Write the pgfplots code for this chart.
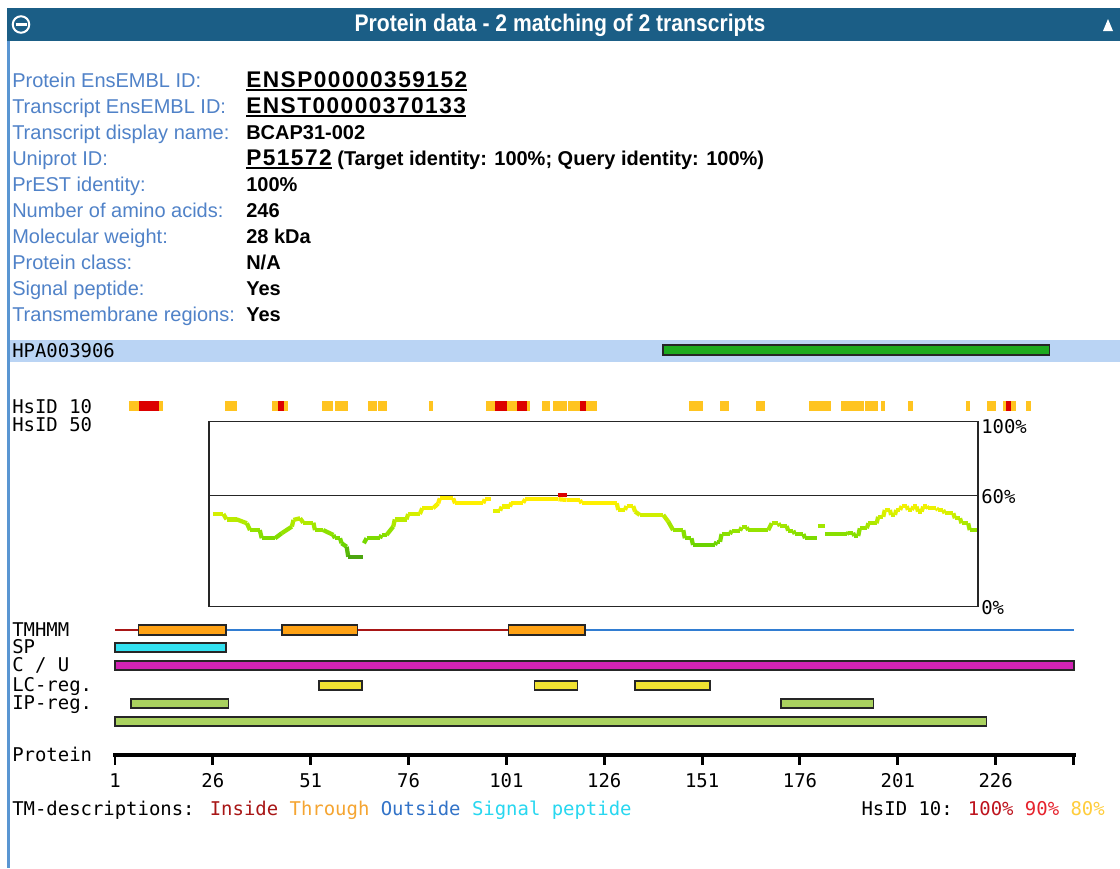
\documentclass[border=0pt]{standalone}
\usepackage{graphicx}
\usepackage{pgfplots}
\pgfplotsset{compat=1.18}
\usepackage{fontspec}
\setmainfont{Liberation Sans}
\newfontfamily\mono{DejaVu Sans Mono}
\definecolor{hdr}{RGB}{27,94,134}
\definecolor{lbl}{RGB}{80,130,200}
\definecolor{border}{RGB}{90,150,210}
\definecolor{band}{RGB}{186,212,244}
\definecolor{hsor}{RGB}{255,196,32}
\definecolor{hsred}{RGB}{220,0,0}
\definecolor{tmin}{RGB}{168,22,22}
\definecolor{tmthr}{RGB}{255,162,20}
\definecolor{tmout}{RGB}{50,125,210}
\definecolor{spc}{RGB}{50,225,240}
\definecolor{cuc}{RGB}{210,35,180}
\definecolor{lcc}{RGB}{240,225,50}
\definecolor{ipc}{RGB}{170,210,95}
\definecolor{hpag}{RGB}{30,170,30}
\definecolor{legthr}{RGB}{245,165,50}
\definecolor{legout}{RGB}{50,115,200}
\definecolor{legsp}{RGB}{40,215,240}
\definecolor{leg100}{RGB}{190,20,30}
\definecolor{leg90}{RGB}{230,35,45}
\definecolor{leg80}{RGB}{255,205,60}
\newcommand\lab{\fontsize{15pt}{18pt}\selectfont\color{lbl}}
\newcommand\val{\fontsize{15pt}{18pt}\selectfont\bfseries}
\newcommand\lnk{\fontsize{17pt}{20pt}\selectfont\addfontfeature{LetterSpace=6.5}}
\newcommand\mn{\mono\fontsize{14.2pt}{17pt}\selectfont}
\newcommand\ul[1]{\sbox0{#1}\rlap{\usebox0}\rule[-2.8pt]{\wd0}{1.3pt}}
\newcommand\seg[5]{\addplot[draw=black!85,line width=1.1pt,fill=#5] coordinates {(#1,#3) (#2,#3) (#2,#4) (#1,#4)} -- cycle;}
\newcommand\sq[3]{\addplot[draw=none,fill=#3] coordinates {(#1,401) (#2,401) (#2,411) (#1,411)} -- cycle;}
\pgfplotsset{frame/.style={width=840pt,height=651pt,scale only axis,hide axis,at={(0pt,0pt)},anchor=south west,y dir=reverse,ymin=0,ymax=868,clip=false},
  crv/.style={mesh,shader=flat,point meta=y,line width=3.2pt,line join=round,mark=none}}
\tikzset{t/.style={inner sep=0pt,anchor=base west}}
\begin{document}
\begin{tikzpicture}
% ---------- page frame in pixel units ----------
\begin{axis}[frame,xmin=0,xmax=1120]
\fill[white] (axis cs:0,0) rectangle (axis cs:1120,868);
\fill[hdr] (axis cs:7,8) rectangle (axis cs:1120,41);
\fill[border] (axis cs:7,41) rectangle (axis cs:9.5,868);
\fill[band] (axis cs:10,340) rectangle (axis cs:1120,362);
\draw[white,line width=1.5pt] (axis cs:21,24.5) circle[radius=6.2pt];
\draw[white,line width=2.2pt] (axis cs:15.5,24.5) -- (axis cs:26.5,24.5);
\fill[white] (axis cs:1103,31) -- (axis cs:1113,31) -- (axis cs:1108,19) -- cycle;
\node[inner sep=0pt,text=white,font=\fontsize{18pt}{20pt}\selectfont\bfseries] at (axis cs:560,25) {\scalebox{0.88}[1]{Protein data - 2 matching of 2 transcripts}};
% info labels
\node[t,font=\lab] at (axis cs:12,87) {Protein EnsEMBL ID:};
\node[t,font=\lab] at (axis cs:12,113) {Transcript EnsEMBL ID:};
\node[t,font=\lab] at (axis cs:12,139) {Transcript display name:};
\node[t,font=\lab] at (axis cs:12,165) {Uniprot ID:};
\node[t,font=\lab] at (axis cs:12,191) {PrEST identity:};
\node[t,font=\lab] at (axis cs:12,217) {Number of amino acids:};
\node[t,font=\lab] at (axis cs:12,243) {Molecular weight:};
\node[t,font=\lab] at (axis cs:12,269) {Protein class:};
\node[t,font=\lab] at (axis cs:12,295) {Signal peptide:};
\node[t,font=\lab] at (axis cs:12,321) {Transmembrane regions:};
\node[t,font=\val] at (axis cs:246,87) {\ul{\lnk ENSP00000359152}};
\node[t,font=\val] at (axis cs:246,113) {\ul{\lnk ENST00000370133}};
\node[t,font=\val] at (axis cs:246,139) {BCAP31-002};
\node[t,font=\val] at (axis cs:246,165) {\ul{\lnk P51572} (Target identity: 100\%; Query identity: 100\%)};
\node[t,font=\val] at (axis cs:246,191) {100\%};
\node[t,font=\val] at (axis cs:246,217) {246};
\node[t,font=\val] at (axis cs:246,243) {28 kDa};
\node[t,font=\val] at (axis cs:246,269) {N/A};
\node[t,font=\val] at (axis cs:246,295) {Yes};
\node[t,font=\val] at (axis cs:246,321) {Yes};
% mono labels
\node[t,font=\mn] at (axis cs:12,357) {HPA003906};
\node[t,font=\mn] at (axis cs:12,413) {HsID 10};
\node[t,font=\mn] at (axis cs:12,431) {HsID 50};
\node[t,font=\mn] at (axis cs:981,433) {100\%};
\node[t,font=\mn] at (axis cs:981,503) {60\%};
\node[t,font=\mn] at (axis cs:981,614) {0\%};
\node[t,font=\mn] at (axis cs:12,636) {TMHMM};
\node[t,font=\mn] at (axis cs:12,653) {SP};
\node[t,font=\mn] at (axis cs:12,671) {C / U};
\node[t,font=\mn] at (axis cs:12,691) {LC-reg.};
\node[t,font=\mn] at (axis cs:12,709) {IP-reg.};
\node[t,font=\mn] at (axis cs:12,761) {Protein};
\node[t,font=\mn] at (axis cs:12,815) {TM-descriptions: {\color{tmin}Inside} {\color{legthr}Through} {\color{legout}Outside} {\color{legsp}Signal peptide}};
\node[inner sep=0pt,anchor=base east,font=\mn] at (axis cs:1105,815) {HsID 10: {\color{leg100}100\%} {\color{leg90}90\%} {\color{leg80}80\%}};
\end{axis}
% ---------- features in amino-acid units ----------
\begin{axis}[frame,xmin=-28.382,xmax=257.77]
\seg{141.0}{239.7}{345}{355}{hpag}
% HsID 10 windows
\sq{4.7}{13.3}{hsor} \sq{29.1}{32.2}{hsor} \sq{41.0}{45.3}{hsor}
\sq{53.8}{56.8}{hsor} \sq{57.2}{60.6}{hsor} \sq{65.7}{67.9}{hsor}
\sq{68.3}{70.4}{hsor} \sq{81.1}{82.3}{hsor} \sq{95.8}{107.0}{hsor}
\sq{110.0}{112.1}{hsor} \sq{112.8}{116.4}{hsor} \sq{116.8}{124.1}{hsor}
\sq{147.6}{151.2}{hsor} \sq{155.6}{157.9}{hsor} \sq{164.7}{167.0}{hsor}
\sq{178.4}{184.0}{hsor} \sq{186.6}{192.3}{hsor} \sq{192.7}{195.9}{hsor}
\sq{196.6}{197.7}{hsor} \sq{203.7}{205.0}{hsor} \sq{218.5}{219.5}{hsor}
\sq{223.7}{226.0}{hsor} \sq{227.9}{231.1}{hsor} \sq{233.8}{235.0}{hsor}
\sq{7.2}{12.3}{hsred} \sq{42.7}{44.2}{hsred} \sq{98.1}{101.2}{hsred}
\sq{103.6}{106.2}{hsred} \sq{119.8}{121.3}{hsred} \sq{228.6}{229.9}{hsred}
% TMHMM
\addplot[tmin,line width=2.2pt] coordinates {(1,630) (7.0,630)};
\addplot[tmout,line width=2.2pt] coordinates {(29.3,630) (43.7,630)};
\addplot[tmin,line width=2.2pt] coordinates {(62.9,630) (101.6,630)};
\addplot[tmout,line width=2.2pt] coordinates {(121.1,630) (246,630)};
\seg{7.0}{29.3}{625}{635}{tmthr}
\seg{43.7}{62.9}{625}{635}{tmthr}
\seg{101.6}{121.1}{625}{635}{tmthr}
% SP, C/U, LC, IP
\seg{1}{29.3}{643}{652}{spc}
\seg{1}{246}{661}{670}{cuc}
\seg{53.1}{64.1}{681}{690}{lcc}
\seg{108.2}{119.1}{681}{690}{lcc}
\seg{133.9}{153.0}{681}{690}{lcc}
\seg{5.1}{30.0}{699}{708}{ipc}
\seg{171.1}{194.8}{699}{708}{ipc}
\seg{1}{223.7}{717}{726}{ipc}
% protein ruler
\addplot[black,line width=3pt] coordinates {(0.6,755) (246.4,755)};
\addplot[black,line width=2.2pt,unbounded coords=jump] coordinates {
(1,753) (1,765) (1,nan) (26,753) (26,765) (26,nan) (51,753) (51,765) (51,nan)
(76,753) (76,765) (76,nan) (101,753) (101,765) (101,nan) (126,753) (126,765) (126,nan)
(151,753) (151,765) (151,nan) (176,753) (176,765) (176,nan) (201,753) (201,765) (201,nan)
(226,753) (226,765) (226,nan) (246,753) (246,765)};
\foreach \k in {1,26,51,76,101,126,151,176,201,226} {
  \edef\tmp{\noexpand\node[inner sep=0pt,anchor=base,font=\noexpand\mn] at (axis cs:\k,787) {\k};}
  \tmp
}
\end{axis}
% ---------- HsID 50 identity plot ----------
\begin{axis}[at={(156.675pt,195.975pt)},anchor=south west,width=576.8pt,height=138.75pt,
  scale only axis,xmin=25,xmax=221.5,ymin=0,ymax=100,xtick=\empty,ytick=\empty,
  axis line style={black!85,line width=1.2pt},
  colormap={hs}{rgb255(27pt)=(75,165,15); rgb255(33pt)=(105,210,0); rgb255(40pt)=(140,225,0); rgb255(47pt)=(185,235,0); rgb255(52pt)=(228,242,0); rgb255(56pt)=(255,240,0); rgb255(60pt)=(255,235,0)},
  point meta min=27,point meta max=60]
\addplot[black!85,line width=1.2pt] coordinates {(25,60) (221.5,60)};
\addplot[crv] coordinates {(26.0,50.1) (28.7,50.1) (29.5,47.2) (32.1,47.2) (34.7,45.1) (35.5,41.4) (38.0,41.4) (38.5,37.0) (41.9,37.0) (43.6,39.7) (46.2,43.3) (46.6,46.9) (48.3,47.8) (49.1,45.4) (51.7,45.4) (52.1,41.4) (54.2,41.4) (56.8,38.8) (57.2,37.0) (58.5,37.0) (58.9,34.3) (60.2,32.4) (60.6,27.0) (64.4,27.0)};
\addplot[crv] coordinates {(64.6,34.3) (65.3,37.0) (68.7,37.0) (69.1,38.8) (70.4,38.8) (72.1,43.3) (72.5,47.2) (75.5,47.2) (75.9,50.1) (78.9,50.1) (79.5,53.2) (82.3,53.2) (83.6,55.9) (84.0,58.6) (87.4,58.6) (87.9,55.9) (95.1,55.9) (95.5,58.1) (97.2,58.1)};
\addplot[crv] coordinates {(97.7,51.9) (99.4,51.9) (99.8,54.1) (101.9,54.1) (102.3,56.2) (105.3,56.2) (105.8,58.1) (114.3,58.1) (116.4,57.7) (119.8,57.7) (120.2,55.9) (129.2,55.9) (129.6,52.3) (131.3,52.3) (131.7,54.4) (133.4,54.4) (133.9,51.4) (135.1,49.6) (141.1,49.6) (142.4,45.9) (143.6,41.4) (146.2,41.4) (146.6,37.0) (148.3,37.0) (148.7,33.4) (154.3,33.4) (154.7,35.1) (155.6,35.1) (156.0,39.3) (158.1,39.3) (158.6,41.1) (160.7,41.1) (161.1,42.9) (162.4,42.9) (162.8,41.4) (167.9,41.4) (168.8,45.1) (170.5,45.1) (170.9,43.6) (172.6,43.6) (173.0,41.1) (174.3,41.1) (174.7,39.3) (176.9,39.3) (177.3,37.0) (180.3,37.0)};
\addplot[crv] coordinates {(180.7,43.6) (182.4,43.6)};
\addplot[crv] coordinates {(182.4,39.3) (188.0,39.3) (188.4,40.0) (189.6,40.0) (189.9,38.2) (190.9,38.2) (191.3,42.4) (193.1,42.4) (193.5,45.1) (195.6,45.1) (196.0,48.6) (197.3,48.6) (197.7,52.3) (199.0,52.3) (199.3,49.6) (200.3,49.6) (200.6,52.3) (201.6,52.3) (202.0,54.4) (203.3,54.4) (203.6,52.3) (204.6,52.3) (205.0,54.1) (205.8,54.1) (206.2,51.4) (207.1,51.4) (207.5,54.1) (208.4,54.1) (208.8,53.2) (210.9,53.2) (211.3,52.3) (212.6,52.3) (213.0,50.5) (215.2,50.5) (215.6,47.8) (216.9,47.8) (217.3,45.1) (219.0,45.1) (219.4,41.4) (221.3,41.4)};
\addplot[hsred,line width=3.2pt] coordinates {(114.3,60.4) (116.4,60.4)};
\end{axis}
\end{tikzpicture}
\end{document}
